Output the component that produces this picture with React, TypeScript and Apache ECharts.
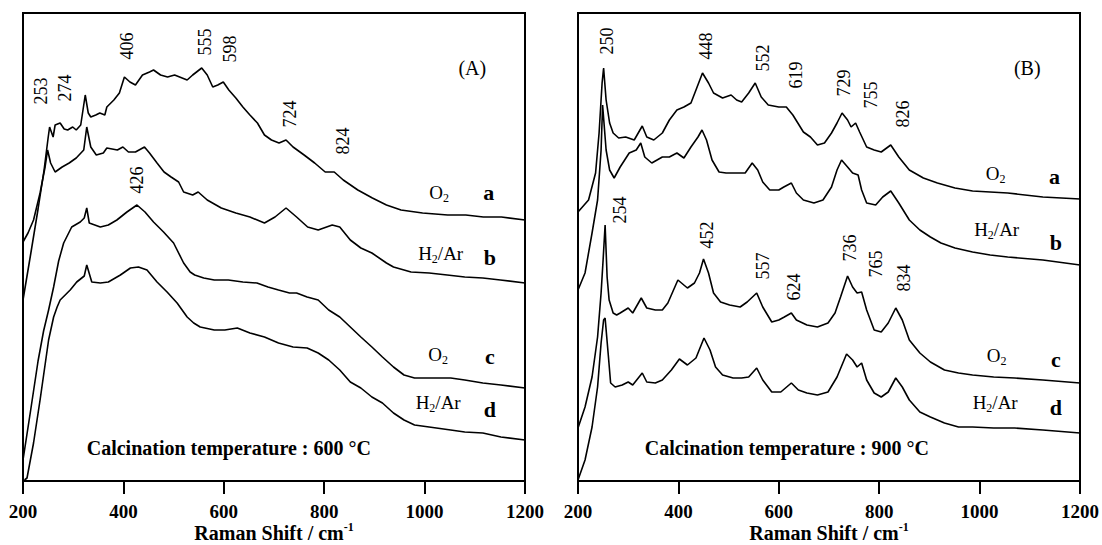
import React, { useEffect, useRef } from "react";
import * as echarts from "echarts";

const SERIF = '"Liberation Serif", "Times New Roman", serif';

// x axis (Raman shift, cm-1)
const xMin = 200;
const xMax = 1200;
const xStep = 200;

// ---------- Panel A: calcination 600 °C (intensity, a.u.) ----------
const a600: [number, number][] = [
  [200, 181], [215, 226], [230, 272], [242, 311], [250, 343], [253, 354], [260, 344], [264, 356],
  [274, 358], [282, 352], [289, 351], [299, 354], [306, 351], [315, 356], [324, 386], [330, 368],
  [335, 364], [345, 366], [353, 368], [363, 366], [367, 374], [381, 381], [392, 388], [402, 404],
  [413, 399], [424, 396], [438, 406], [452, 409], [460, 411], [474, 406], [488, 404], [502, 406],
  [517, 403], [527, 401], [538, 406], [556, 413], [567, 406], [578, 394], [588, 396], [599, 399],
  [610, 391], [624, 383], [638, 374], [652, 366], [667, 358], [681, 346], [695, 341], [710, 338],
  [724, 341], [738, 334], [760, 326], [781, 318], [802, 309], [820, 309], [838, 301], [867, 291],
  [896, 283], [924, 276], [953, 271], [996, 268], [1046, 266], [1082, 266], [1117, 264], [1153, 264],
  [1200, 261],
];
const b600: [number, number][] = [
  [200, 239], [210, 248], [221, 261], [234, 288], [244, 314], [249, 331], [255, 318], [264, 309],
  [278, 314], [292, 318], [306, 323], [321, 331], [327, 354], [335, 334], [346, 326], [360, 328],
  [367, 333], [388, 331], [399, 334], [410, 329], [424, 329], [442, 334], [452, 328], [467, 318],
  [481, 309], [495, 304], [510, 299], [520, 289], [538, 286], [549, 289], [567, 281], [595, 273],
  [624, 268], [652, 264], [681, 258], [702, 264], [724, 273], [745, 264], [767, 254], [788, 251],
  [816, 256], [831, 254], [852, 241], [873, 233], [895, 228], [924, 218], [938, 214], [973, 209],
  [1009, 208], [1045, 206], [1080, 204], [1116, 203], [1151, 201], [1200, 198],
];
const c600: [number, number][] = [
  [200, 21], [215, 70], [230, 120], [241, 150], [251, 171], [261, 194], [271, 220], [281, 238],
  [297, 254], [314, 259], [322, 263], [327, 273], [332, 258], [354, 254], [370, 256], [387, 261],
  [407, 269], [427, 276], [443, 269], [460, 259], [480, 249], [500, 238], [520, 218], [533, 209],
  [542, 206], [560, 203], [581, 201], [609, 201], [638, 199], [666, 198], [688, 194], [709, 191],
  [731, 188], [745, 188], [766, 184], [788, 181], [809, 171], [831, 164], [852, 154], [873, 144],
  [895, 134], [916, 124], [938, 114], [959, 106], [980, 103], [1009, 103], [1052, 103], [1080, 101],
  [1116, 98], [1152, 96], [1200, 93],
];
const d600: [number, number][] = [
  [203, 1], [208, 3], [221, 38], [234, 81], [251, 141], [261, 164], [268, 174], [274, 181],
  [294, 191], [307, 199], [322, 205], [327, 216], [337, 199], [354, 198], [370, 199], [394, 206],
  [414, 213], [430, 214], [447, 211], [467, 199], [487, 189], [507, 178], [527, 164], [540, 158],
  [553, 154], [581, 151], [602, 151], [627, 153], [652, 148], [681, 144], [709, 138], [738, 134],
  [766, 133], [788, 128], [809, 121], [831, 111], [852, 99], [873, 93], [895, 84], [916, 78],
  [938, 68], [959, 61], [980, 56], [1009, 54], [1052, 51], [1080, 49], [1116, 48], [1152, 44],
  [1200, 41],
];

// ---------- Panel B: calcination 900 °C (intensity, a.u.) ----------
const a900: [number, number][] = [
  [200, 269], [221, 281], [235, 308], [242, 348], [248, 398], [251, 413], [256, 381], [263, 358],
  [270, 348], [281, 343], [295, 344], [312, 341], [328, 355], [337, 344], [351, 341], [368, 348],
  [382, 361], [397, 371], [411, 374], [425, 378], [435, 391], [448, 408], [460, 398], [470, 388],
  [488, 383], [505, 386], [516, 381], [526, 379], [540, 388], [553, 398], [565, 384], [579, 376],
  [600, 374], [615, 374], [628, 366], [649, 349], [663, 344], [677, 336], [691, 338], [705, 348],
  [716, 358], [726, 368], [737, 361], [744, 354], [753, 358], [761, 349], [775, 334], [790, 331],
  [804, 329], [823, 336], [839, 324], [860, 311], [888, 303], [916, 298], [951, 293], [986, 290],
  [1056, 288], [1126, 284], [1200, 282],
];
const b900: [number, number][] = [
  [200, 191], [214, 208], [228, 248], [239, 281], [246, 331], [249, 376], [256, 331], [263, 311],
  [272, 303], [284, 314], [302, 328], [316, 331], [325, 338], [333, 324], [347, 318], [368, 324],
  [382, 324], [397, 328], [411, 323], [425, 334], [439, 344], [447, 351], [456, 341], [467, 321],
  [481, 309], [495, 308], [516, 308], [533, 308], [547, 318], [558, 311], [568, 299], [582, 291],
  [600, 291], [610, 294], [625, 298], [635, 288], [649, 281], [670, 278], [688, 281], [705, 294],
  [716, 311], [725, 321], [737, 314], [747, 308], [758, 306], [765, 291], [775, 278], [793, 276],
  [807, 284], [823, 290], [839, 278], [860, 261], [881, 251], [902, 244], [923, 238], [951, 233],
  [986, 229], [1021, 226], [1056, 224], [1126, 221], [1200, 216],
];
const c900: [number, number][] = [
  [200, 53], [214, 74], [228, 104], [239, 144], [246, 188], [250, 221], [254, 256], [258, 204],
  [262, 181], [270, 168], [277, 166], [284, 168], [300, 173], [309, 168], [326, 183], [337, 173],
  [354, 171], [368, 171], [379, 178], [399, 201], [418, 193], [432, 198], [442, 208], [450, 222],
  [460, 208], [470, 188], [484, 179], [502, 176], [523, 174], [537, 179], [556, 188], [568, 174],
  [586, 159], [600, 161], [611, 164], [625, 168], [635, 161], [656, 156], [677, 154], [698, 158],
  [712, 168], [723, 184], [737, 205], [747, 194], [756, 188], [765, 189], [775, 171], [790, 151],
  [804, 149], [818, 158], [833, 173], [846, 161], [860, 141], [881, 128], [902, 119], [930, 111],
  [958, 108], [986, 106], [1028, 104], [1070, 103], [1126, 101], [1200, 98],
];
const d900: [number, number][] = [
  [200, 1], [214, 21], [228, 54], [239, 94], [246, 138], [251, 161], [254, 163], [260, 128],
  [265, 98], [274, 94], [288, 96], [300, 99], [309, 96], [328, 108], [337, 99], [354, 98],
  [368, 101], [386, 111], [402, 122], [418, 116], [435, 123], [451, 143], [463, 131], [474, 114],
  [488, 106], [509, 103], [526, 103], [540, 104], [556, 113], [568, 101], [586, 89], [604, 89],
  [625, 98], [639, 91], [656, 88], [677, 86], [698, 89], [716, 104], [735, 127], [747, 121],
  [756, 114], [765, 118], [775, 101], [790, 88], [804, 84], [818, 89], [833, 103], [846, 94],
  [860, 81], [881, 69], [902, 64], [930, 58], [958, 54], [986, 54], [1028, 53], [1070, 53],
  [1126, 51], [1200, 48],
];

// ---------- peak annotations (text, wavenumber, intensity) ----------
const peaksA: [string, number, number][] = [
  ["253", 235, 390], ["274", 283, 393], ["406", 407, 435], ["555", 563, 439], ["598", 613, 432],
  ["724", 731, 367], ["824", 838, 340], ["426", 428, 301],
];
const peaksB: [string, number, number][] = [
  ["250", 258, 440], ["448", 455, 435], ["552", 568, 423], ["619", 635, 406], ["729", 730, 398],
  ["755", 783, 386], ["826", 847, 367], ["254", 283, 271], ["452", 456, 246], ["557", 568, 215],
  ["624", 630, 194], ["736", 742, 233], ["765", 793, 217], ["834", 849, 203],
];

// atmosphere labels: [gas, letter, gasWn, letterWn, gasI, letterI]
const gasA: [string, string, number, number, number, number][] = [
  ["O2", "a", 1029, 1128, 289, 289],
  ["H2/Ar", "b", 1032, 1130, 228, 224],
  ["O2", "c", 1027, 1130, 127, 125],
  ["H2/Ar", "d", 1027, 1130, 79, 72],
];
const gasB: [string, string, number, number, number, number][] = [
  ["O2", "a", 1032, 1149, 308, 305],
  ["H2/Ar", "b", 1034, 1152, 252, 239],
  ["O2", "c", 1034, 1152, 126, 122],
  ["H2/Ar", "d", 1031, 1152, 79, 74],
];
const panelTags = ["(A)", "(B)"];
const tempTexts = ["Calcination temperature : 600 °C", "Calcination temperature : 900 °C"];

let measureCtx: CanvasRenderingContext2D | null = null;
function textWidth(t: string, size: number, bold: boolean) {
  if (!measureCtx) measureCtx = document.createElement("canvas").getContext("2d");
  if (!measureCtx) return t.length * size * 0.5;
  measureCtx.font = `${bold ? "bold " : ""}${size}px ${SERIF}`;
  return measureCtx.measureText(t).width;
}

type Part = { t: string; size: number; bold?: boolean; dy?: number };

function txt(t: string, x: number, y: number, size: number, bold = false, rot = 0, align = "center") {
  return {
    type: "text",
    x,
    y,
    rotation: rot,
    silent: true,
    style: {
      text: t,
      fontSize: size,
      fontFamily: SERIF,
      fontWeight: bold ? "bold" : "normal",
      fill: "#000",
      textAlign: align,
      align,
      textVerticalAlign: "middle",
      verticalAlign: "middle",
    },
  };
}

function parts(ps: Part[], cx: number, cy: number) {
  const ws = ps.map((p) => textWidth(p.t, p.size, !!p.bold));
  const total = ws.reduce((s, w) => s + w, 0);
  let x = cx - total / 2;
  return ps.map((p, i) => {
    const el = txt(p.t, x, cy + (p.dy || 0), p.size, !!p.bold, 0, "left");
    x += ws[i];
    return el;
  });
}

function gasParts(g: string): Part[] {
  if (g === "O2") return [{ t: "O", size: 19 }, { t: "2", size: 12, dy: 6 }];
  return [{ t: "H", size: 19 }, { t: "2", size: 12, dy: 6 }, { t: "/Ar", size: 19 }];
}

export default function App() {
  const ref = useRef<HTMLDivElement>(null);
  useEffect(() => {
    document.body.style.margin = "0";
    if (!ref.current) return;
    const chart = echarts.init(ref.current, null, { renderer: "svg" });
    const grids = [
      { left: 23, top: 13, width: 502, height: 468 },
      { left: 578, top: 13, width: 502, height: 468 },
    ];
    const series = [
      [a600, 0], [b600, 0], [c600, 0], [d600, 0],
      [a900, 1], [b900, 1], [c900, 1], [d900, 1],
    ].map(([data, idx]) => ({
      type: "line",
      xAxisIndex: idx as number,
      yAxisIndex: idx as number,
      data: data as [number, number][],
      symbol: "none",
      showSymbol: false,
      silent: true,
      lineStyle: { color: "#000", width: 1.6 },
    }));
    chart.setOption({
      animation: false,
      backgroundColor: "#fff",
      grid: grids.map((g) => ({ ...g, show: true, borderColor: "#000", borderWidth: 2, backgroundColor: "transparent" })),
      xAxis: [0, 1].map((i) => ({
        gridIndex: i,
        type: "value",
        min: xMin,
        max: xMax,
        interval: xStep,
        axisLine: { show: true, lineStyle: { color: "#000", width: 2 } },
        axisTick: { show: true, length: 13, lineStyle: { color: "#000", width: 2 } },
        axisLabel: {
          color: "#000",
          fontFamily: SERIF,
          fontSize: 19,
          fontWeight: "bold",
          margin: 21,
          formatter: (v: number) => String(v),
        },
        splitLine: { show: false },
      })),
      yAxis: [0, 1].map((i) => ({ gridIndex: i, type: "value", min: 0, max: 468, show: false })),
      series,
    });

    const px = (g: number, x: number, y: number) =>
      chart.convertToPixel({ gridIndex: g } as any, [x, y]) as number[];

    const els: any[] = [];
    [peaksA, peaksB].forEach((list, g) => {
      list.forEach(([t, wn, v]) => {
        const [x, y] = px(g, wn, v);
        els.push(txt(t, x, y, 18, false, Math.PI / 2));
      });
    });
    [gasA, gasB].forEach((list, g) => {
      list.forEach(([gas, letter, gw, lw, gi, li]) => {
        const [gx, gy] = px(g, gw, gi);
        els.push(...parts(gasParts(gas), gx, gy));
        const [lx, ly] = px(g, lw, li);
        els.push(txt(letter, lx, ly, 22, true));
      });
      const [tx, ty] = px(g, 1095, 413);
      els.push(txt(panelTags[g], tx, ty, 20));
      const [cx, cy] = px(g, g === 0 ? 610 : 616, 33);
      els.push(txt(tempTexts[g], cx, cy, 20, true));
      const [nx, ny] = px(g, 700, -52);
      els.push(
        ...parts(
          [
            { t: "Raman Shift / cm", size: 20, bold: true },
            { t: "-1", size: 12, bold: true, dy: -6 },
          ],
          nx,
          ny
        )
      );
    });
    chart.setOption({ graphic: { elements: els } });

    return () => chart.dispose();
  }, []);
  return <div ref={ref} style={{ width: 1102, height: 545 }} />;
}
